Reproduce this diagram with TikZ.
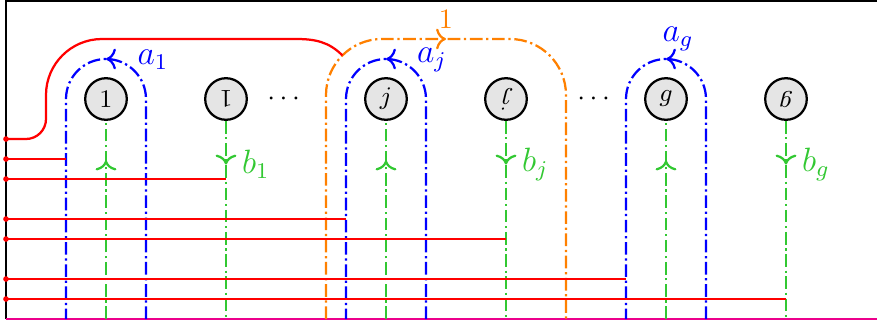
\documentclass[tikz,border=0pt]{standalone}
\usepackage{amsmath,amssymb,graphicx,tikz}
\usetikzlibrary{arrows.meta,positioning,calc,decorations.markings}
\definecolor{bgreen}{RGB}{50,200,50}
\definecolor{corange}{RGB}{255,128,0}
\tikzstyle{puncture} = [circle, draw, thick, fill=black!10,
minimum size=0.52cm, inner sep=0pt, font=\small]
\tikzstyle{dashdot} = [dash pattern=on 4.5pt off 1.3pt on 0.8pt off 1.3pt]
\tikzstyle{aloop} = [draw, blue, thick, dashdot]
\tikzstyle{bline} = [draw, bgreen, thick, dashdot]
\tikzstyle{cloop} = [draw, corange, thick, dashdot]
\tikzstyle{cut} = [draw, red, thick]
\tikzset{midarrow/.style={postaction={decorate}, decoration={markings,
mark=at position #1 with {\arrow[solid]{To[scale=1.05]}}}}}

\begin{document}
\begin{tikzpicture}[x=0.25cm, y=0.25cm, node distance=1.5cm]
			\useasboundingbox (-0.3,-0.3) rectangle (43.55,15.95);
			% Place punctures
			\node [puncture] (p1) at (5,11) {$1$};
			\node [puncture, right of=p1] (q1) {\rotatebox{180}{$1$}};
			\node [right of=q1, node distance=0.75cm] (dots1) {$\cdots$};
			\node [puncture, right of=q1, node distance=2cm] (pj) {$j$};
			\node [puncture, right of=pj] (qj) {\rotatebox{180}{$j$}};
			\node [right of=qj, node distance=1.125cm] (dots2) {$\cdots$};
			\node [puncture, right of=qj, node distance=2cm] (pg) {$g$};
			\node [puncture, right of=pg] (qg) {\rotatebox{180}{$g$}};
			% base points and loop legs
			\coordinate (bot) at (0,0);
			\coordinate (r1) at (0,9);
			\coordinate (r2) at (0,8);
			\coordinate (r3) at (0,7);
			\coordinate (r4) at (0,5);
			\coordinate (r5) at (0,4);
			\coordinate (r6) at (0,2);
			\coordinate (r7) at (0,1);
			\coordinate (a1w) at ($(p1)+(-2,0)$);
			\coordinate (ajw) at ($(pj)+(-2,0)$);
			\coordinate (agw) at ($(pg)+(-2,0)$);
			\coordinate (join) at ($(pj)+(-2.18,2.18)$);
			% frame
			\draw [thick] (bot) -- (0,15.9) -- (43.55,15.9);
			\draw [magenta, thick] (bot) -- (43.55,0);
			% a-loops
			\path [aloop, midarrow=0.5] ($(p1 |- bot)+(2,0)$) -- ($(p1)+(2,0)$)
			arc [start angle=0, end angle=180, radius=2] -- ($(p1 |- bot)+(-2,0)$);
			\path [aloop, midarrow=0.5] ($(pj |- bot)+(2,0)$) -- ($(pj)+(2,0)$)
			arc [start angle=0, end angle=180, radius=2] -- ($(pj |- bot)+(-2,0)$);
			\path [aloop, midarrow=0.5] ($(pg |- bot)+(2,0)$) -- ($(pg)+(2,0)$)
			arc [start angle=0, end angle=180, radius=2] -- ($(pg |- bot)+(-2,0)$);
			\node [blue, font=\large] at ($(p1)+(2.35,1.95)$) {$a_1$};
			\node [blue, font=\large] at ($(pj)+(2.3,1.95)$) {$a_j$};
			\node [blue, font=\large] at ($(pg)+(0.6,3)$) {$a_g$};
			% b-lines
			\path [bline, midarrow=0.8] (p1 |- bot) -- (p1);
			\path [bline, midarrow=0.22] (q1) -- node [pos=0.22, right=2pt, font=\large] {$b_1$} (q1 |- bot);
			\path [bline, midarrow=0.8] (pj |- bot) -- (pj);
			\path [bline, midarrow=0.22] (qj) -- node [pos=0.22, right=2pt, font=\large] {$b_j$} (qj |- bot);
			\path [bline, midarrow=0.8] (pg |- bot) -- (pg);
			\path [bline, midarrow=0.22] (qg) -- node [pos=0.22, right=2pt, font=\large] {$b_g$} (qg |- bot);
			% loop round the pair j
			\path [cloop, rounded corners=0.7cm, midarrow=0.5] ($(pj |- bot)+(-3,0)$)
			-- ($(pj)+(-3,3)$) -- node [above] {$1$} ($(qj)+(3,3)$) -- ($(qj |- bot)+(3,0)$);
			% cuts from the base points
			\path [cut] (r1) -- (1,9) arc [start angle=-90, end angle=0, radius=1]
			-- (2,11.2) arc [start angle=180, end angle=90, radius=2.8]
			-- (14.5,14) to [out=0, in=135] (join);
			\path [cut] (r2) -- (r2 -| a1w);
			\path [cut] (r3) -- (r3 -| q1);
			\path [cut] (r4) -- (r4 -| ajw);
			\path [cut] (r5) -- (r5 -| qj);
			\path [cut] (r6) -- (r6 -| agw);
			\path [cut] (r7) -- (r7 -| qg);
			\foreach \r in {r1,r2,r3,r4,r5,r6,r7}
			\fill [red] (\r) circle (1pt);
		\end{tikzpicture}
\end{document}
